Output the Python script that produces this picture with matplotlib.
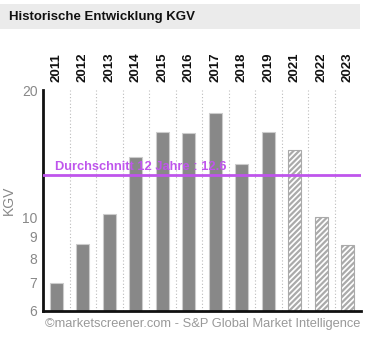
import matplotlib
matplotlib.use("Agg")
import matplotlib.pyplot as plt
from matplotlib.patches import Rectangle
from matplotlib.ticker import FixedLocator, NullLocator, FixedFormatter

plt.rcParams['font.family'] = ['Liberation Sans', 'DejaVu Sans']
plt.rcParams['hatch.linewidth'] = 1.6

years = ["2011", "2012", "2013", "2014", "2015", "2016", "2017", "2018", "2019", "2021", "2022", "2023"]
kgv = [7.0, 8.64, 10.2, 13.9, 15.95, 15.8, 17.6, 13.4, 15.95, 14.4, 10.0, 8.6]
estimate = [False, False, False, False, False, False, False, False, False, True, True, True]
average = 12.6
yticks = [6, 7, 8, 9, 10, 20]

W, H = 370, 337
fig = plt.figure(figsize=(W / 100, H / 100), dpi=100)

# title bar
fig.patches.append(Rectangle((0, 1 - 29 / H), 360 / W, 25 / H, transform=fig.transFigure,
                             facecolor='#ebebeb', edgecolor='none', zorder=0))
fig.text(9 / W, 1 - 17 / H, "Historische Entwicklung KGV", fontsize=9.5, fontweight='bold',
         va='center', ha='left', color='#111111')

ax = fig.add_axes([43 / W, 26 / H, 318 / W, 221 / H])
x = list(range(len(years)))
for i, (v, est) in enumerate(zip(kgv, estimate)):
    if est:
        ax.bar(i, v, width=0.5, bottom=0, facecolor='white', edgecolor='#aaaaaa',
               hatch='//////', linewidth=0.8, zorder=2)
    else:
        ax.bar(i, v, width=0.5, bottom=0, facecolor='#888888', edgecolor='#cccccc',
               linewidth=0.8, zorder=2)

ax.set_yscale('log')
ax.set_ylim(6, 20)
ax.set_xlim(-0.5, len(years) - 0.5)
ax.yaxis.set_major_locator(FixedLocator(yticks))
ax.yaxis.set_major_formatter(FixedFormatter([str(t) for t in yticks]))
ax.yaxis.set_minor_locator(NullLocator())
ax.tick_params(axis='y', length=0, labelsize=10, colors='#888888', pad=4)
ax.set_ylabel("KGV", color='#888888', fontsize=10, labelpad=4)

ax.set_xticks(x)
ax.set_xticklabels(years, rotation=90, fontweight='bold', fontsize=9.5, color='#111111')
ax.xaxis.tick_top()
ax.tick_params(axis='x', length=0, pad=6)

for b in range(1, len(years)):
    ax.axvline(b - 0.5, color='#bbbbbb', linestyle=(0, (1, 2)), linewidth=0.8, zorder=1)

ax.axhline(average, color='#bf55ec', linewidth=2, zorder=3)
ax.text(-0.05, average * 1.012, "Durchschnitt 12 Jahre : 12.6", color='#bf55ec', fontsize=9.3,
        fontweight='bold', ha='left', va='bottom', zorder=4)

for s in ['top', 'right']:
    ax.spines[s].set_visible(False)
ax.spines['left'].set_linewidth(2)
ax.spines['bottom'].set_linewidth(2)
ax.spines['left'].set_color('#111111')
ax.spines['bottom'].set_color('#111111')

fig.text(360 / W, 1 - 324 / H, "©marketscreener.com - S&P Global Market Intelligence",
         fontsize=9.25, color='#999999', ha='right', va='center')

fig.savefig("out.png", dpi=100)
